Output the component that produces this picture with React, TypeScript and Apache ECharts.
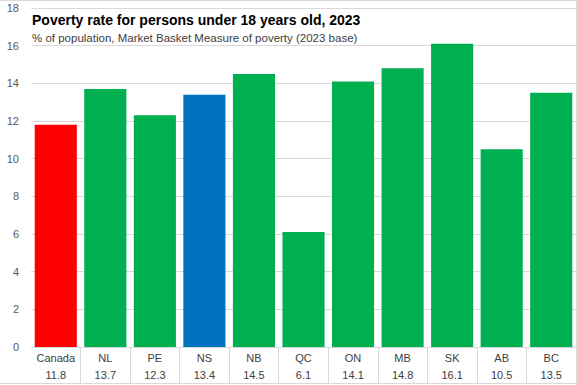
import React, { useEffect, useRef } from "react";
import * as echarts from "echarts";

const categories = ["Canada", "NL", "PE", "NS", "NB", "QC", "ON", "MB", "SK", "AB", "BC"];
const values = [11.8, 13.7, 12.3, 13.4, 14.5, 6.1, 14.1, 14.8, 16.1, 10.5, 13.5];
const barColors = ["#ff0000", "#00b050", "#00b050", "#0070c0", "#00b050", "#00b050", "#00b050", "#00b050", "#00b050", "#00b050", "#00b050"];
const title = "Poverty rate for persons under 18 years old, 2023";
const subtitle = "% of population, Market Basket Measure of poverty (2023 base)";

export default function App() {
  const ref = useRef<HTMLDivElement>(null);
  useEffect(() => {
    document.body.style.margin = "0";
    const chart = echarts.init(ref.current!, null, { renderer: "svg" });
    const font = "Liberation Sans";
    chart.setOption({
      animation: false,
      backgroundColor: "#ffffff",
      textStyle: { fontFamily: font },
      title: {
        text: title,
        subtext: subtitle,
        left: 27,
        top: 8,
        itemGap: 5,
        textStyle: { fontFamily: font, fontSize: 14, fontWeight: "bold", color: "#000000" },
        subtextStyle: { fontFamily: font, fontSize: 11.5, color: "#404040" },
      },
      grid: { left: 31, right: 1, top: 8, bottom: 38, containLabel: false },
      xAxis: {
        type: "category",
        data: categories,
        axisLine: { show: true, lineStyle: { color: "#d9d9d9" } },
        axisTick: {
          show: true,
          length: 37,
          lineStyle: { color: "#d9d9d9" },
          interval: (i: number) => i !== 0,
        },
        axisLabel: {
          interval: 0,
          margin: 2,
          color: "#404040",
          fontSize: 11,
          lineHeight: 17,
          formatter: (v: string, i: number) => `${v}\n${values[i]}`,
        },
      },
      yAxis: {
        type: "value",
        min: 0,
        max: 18,
        interval: 2,
        axisLabel: { color: "#595959", fontSize: 11, margin: 12 },
        splitLine: { lineStyle: { color: "#d9d9d9" } },
        axisLine: { show: false },
        axisTick: { show: false },
      },
      series: [
        {
          type: "bar",
          data: values.map((v, i) => ({ value: v, itemStyle: { color: barColors[i] } })),
          barCategoryGap: "15%",
        },
      ],
      graphic: [
        { type: "line", shape: { x1: 0, y1: 0.5, x2: 577, y2: 0.5 }, style: { stroke: "#d9d9d9", lineWidth: 1 } },
        { type: "line", shape: { x1: 576.5, y1: 0, x2: 576.5, y2: 385 }, style: { stroke: "#d9d9d9", lineWidth: 1 } },
        { type: "line", shape: { x1: 0, y1: 383.5, x2: 577, y2: 383.5 }, style: { stroke: "#d9d9d9", lineWidth: 1 } },
      ],
    });
    return () => chart.dispose();
  }, []);
  return <div ref={ref} style={{ width: 577, height: 385 }} />;
}
